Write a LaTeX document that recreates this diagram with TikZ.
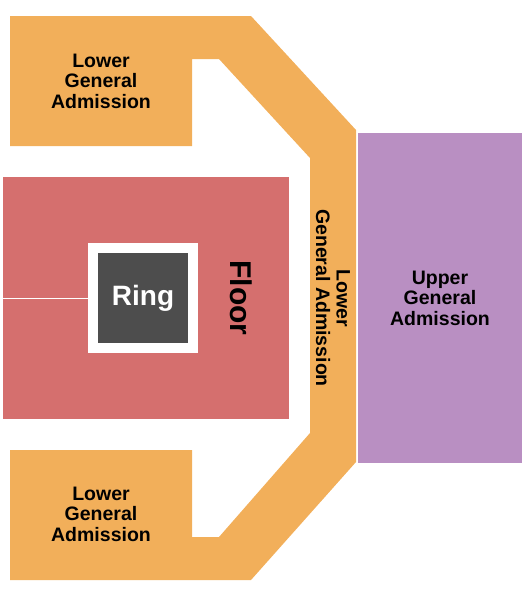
\documentclass[tikz,border=0pt]{standalone}
\usepackage{fontspec}
\setmainfont{Liberation Sans}
\definecolor{gaorange}{RGB}{242,175,90}
\definecolor{floorred}{RGB}{213,111,110}
\definecolor{upperpurple}{RGB}{185,143,194}
\definecolor{ringgrey}{RGB}{77,77,77}
\usetikzlibrary{positioning}
\tikzset{
  seclabel/.style={font=\bfseries\fontsize{19.5}{20.5}\selectfont,align=center,text=black},
  block/.style={draw=none,inner sep=0pt,outer sep=0pt}
}

\begin{document}
\begin{tikzpicture}[x=1pt,y=-1pt]
\useasboundingbox (0,0) rectangle (525,600);
% lower general admission band
\fill[gaorange] (10,16) -- (251,16) -- (356,130) -- (356,462) -- (251,580) -- (10,580) -- (10,450) -- (192,450) -- (192,537) -- (219,537) -- (310,433) -- (310,158) -- (219,59) -- (192,59) -- (192,146) -- (10,146) -- cycle;
\node[seclabel] (lowertop) at (101,81) {Lower\\General\\Admission};
\node[seclabel] (lowerbot) at (101,514) {Lower\\General\\Admission};
\node[seclabel,rotate=-90] (lowerside) at (333,298) {Lower\\General Admission};
% upper
\node[block,fill=upperpurple,minimum width=164pt,minimum height=330pt] (upper) at (440,298) {};
\node[seclabel] (upperlbl) at (upper.center) {Upper\\General\\Admission};
% floor and ring
\node[block,fill=floorred,minimum width=286pt,minimum height=242pt] (floor) at (146,298) {};
\node[font=\bfseries\fontsize{30}{30}\selectfont,rotate=-90] (floorlbl) at (241,298) {Floor};
\node[block,fill=white,minimum size=110pt] (ringbox) at (143,298) {};
\node[block,fill=ringgrey,minimum size=90pt,text=white,font=\bfseries\fontsize{28}{28}\selectfont] (ring) at (ringbox.center) {Ring};
\draw[white,line width=0.8pt] (floor.west) -- (ringbox.west);
\end{tikzpicture}
\end{document}
